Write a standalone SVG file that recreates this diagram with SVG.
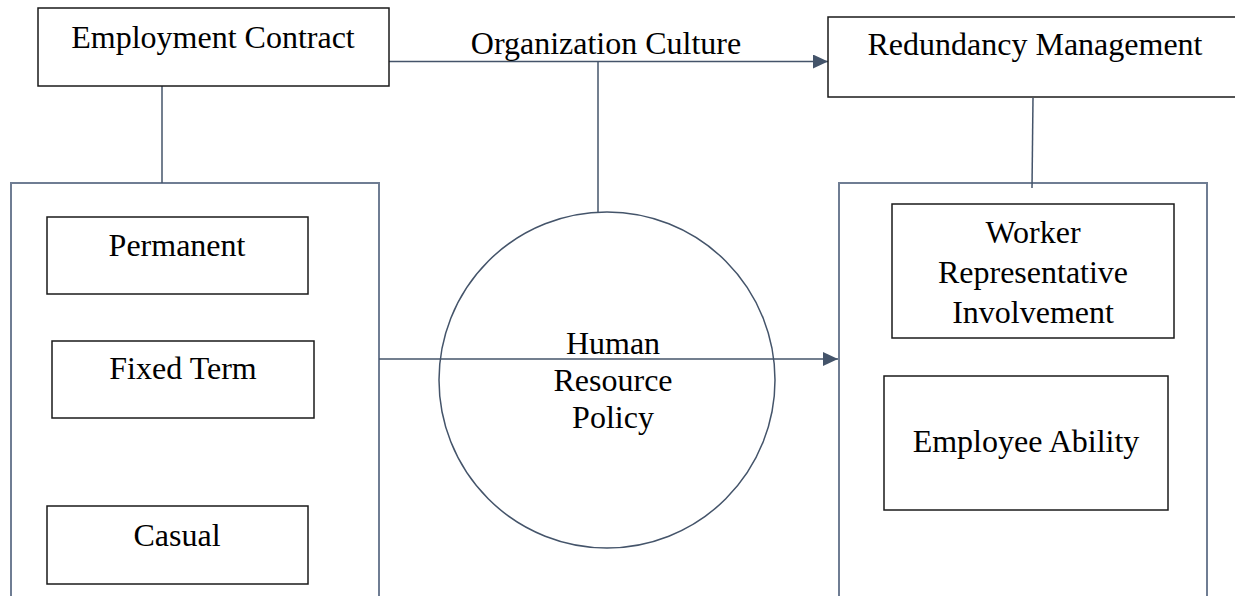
<svg xmlns="http://www.w3.org/2000/svg" width="1235" height="596" viewBox="0 0 1235 596">
<defs>
<style>
.t{font-family:"Liberation Serif","Times New Roman",serif;font-size:32px;fill:#000;text-anchor:middle}
.n{fill:#fff;stroke:#1a1a1a;stroke-width:1.5}
.g{fill:none;stroke:#6f7d93;stroke-width:2}
.c{fill:none;stroke:#44546a;stroke-width:1.5}
</style>
<marker id="ah" markerWidth="16" markerHeight="14" refX="15" refY="7" orient="auto" markerUnits="userSpaceOnUse">
<path d="M0,0 L15,7 L0,14 Z" fill="#44546a"/>
</marker>
</defs>
<rect width="1235" height="596" fill="#fff"/>
<g id="groupLeft"><rect class="g" x="11" y="183" width="368" height="430"/></g>
<g id="groupRight"><rect class="g" x="839" y="183" width="368" height="430"/></g>
<g id="connectors">
<line class="c" x1="162" y1="86" x2="162" y2="183"/>
<line class="c" x1="389" y1="61.5" x2="828" y2="61.5" marker-end="url(#ah)"/>
<line class="c" x1="598" y1="61.5" x2="598" y2="212"/>
<line class="c" x1="1033" y1="98" x2="1032" y2="188"/>
<line class="c" x1="379" y1="359" x2="838" y2="359" marker-end="url(#ah)"/>
</g>
<g id="employmentContract"><rect class="n" x="38" y="8" width="351" height="78"/><text class="t" x="213" y="48">Employment Contract</text></g>
<g id="organizationCulture"><text class="t" x="606" y="54">Organization Culture</text></g>
<g id="redundancyManagement"><rect class="n" x="828" y="17" width="410" height="80"/><text class="t" x="1035" y="55">Redundancy Management</text></g>
<g id="humanResourcePolicy"><ellipse class="c" cx="607" cy="380" rx="168" ry="168" fill="none"/>
<text class="t" x="613" y="354">Human</text><text class="t" x="613" y="391">Resource</text><text class="t" x="613" y="428">Policy</text></g>
<g id="permanent"><rect class="n" x="47" y="217" width="261" height="77"/><text class="t" x="177" y="256">Permanent</text></g>
<g id="fixedTerm"><rect class="n" x="52" y="341" width="262" height="77"/><text class="t" x="183" y="379">Fixed Term</text></g>
<g id="casual"><rect class="n" x="47" y="506" width="261" height="78"/><text class="t" x="177" y="546">Casual</text></g>
<g id="workerRep"><rect class="n" x="892" y="204" width="282" height="134"/><text class="t" x="1033" y="243">Worker</text><text class="t" x="1033" y="283">Representative</text><text class="t" x="1033" y="323">Involvement</text></g>
<g id="employeeAbility"><rect class="n" x="884" y="376" width="284" height="134"/><text class="t" x="1026" y="452">Employee Ability</text></g>
</svg>
